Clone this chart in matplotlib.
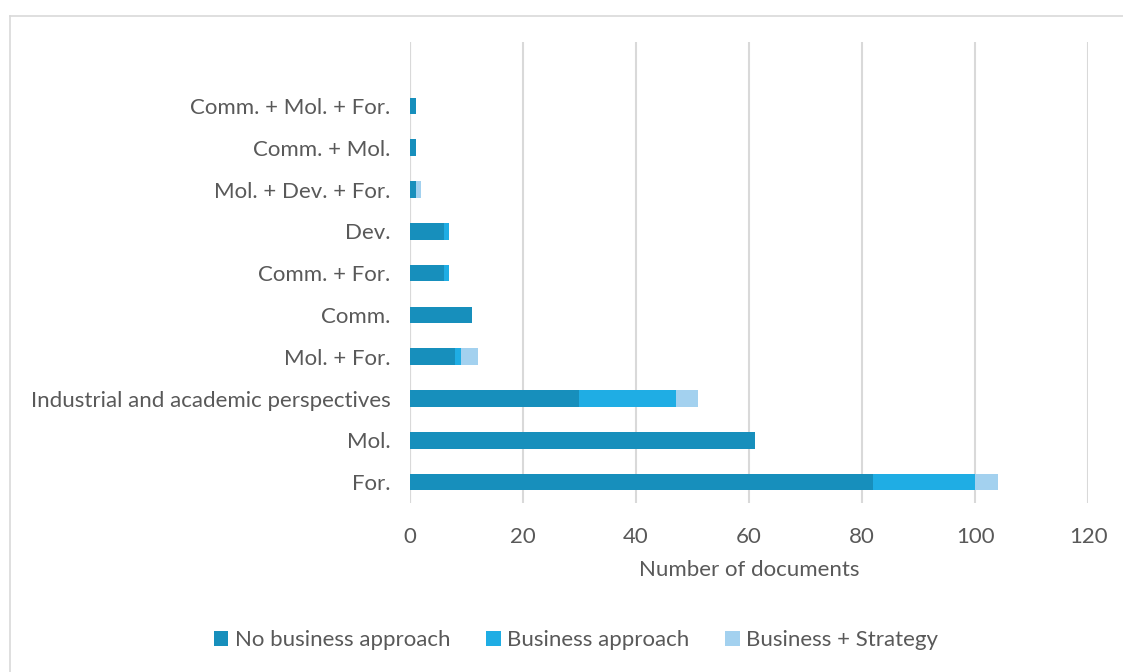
import matplotlib.pyplot as plt
from matplotlib.lines import Line2D
import numpy as np

# categorias (de abajo hacia arriba)
categories = ["For.", "Mol.", "Industrial and academic perspectives", "Mol. + For.",
              "Comm.", "Comm. + For.", "Dev.", "Mol. + Dev. + For.",
              "Comm. + Mol.", "Comm. + Mol. + For."]
no_business = [82, 61, 30, 8, 11, 6, 6, 1, 1, 1]
business = [18, 0, 17, 1, 0, 1, 1, 0, 0, 0]
business_strategy = [4, 0, 4, 3, 0, 0, 0, 1, 0, 0]

series_names = ["No business approach", "Business approach", "Business + Strategy"]
colors = ["#178FBC", "#1FADE4", "#A3D1EF"]
text_color = "#595959"

plt.rcParams['font.family'] = ['Lato', 'DejaVu Sans']
fs = 16

fig = plt.figure(figsize=(11.23, 6.72), dpi=100)
ax = fig.add_axes([0.365, 0.2515, 0.604, 0.686])

y = np.arange(len(categories))
left = np.zeros(len(categories))
for vals, name, col in zip([no_business, business, business_strategy], series_names, colors):
    ax.barh(y, vals, left=left, height=0.4, color=col, label=name, zorder=3)
    left += np.array(vals)

ax.set_xlim(0, 120)
ax.set_ylim(-0.5, 10.53)
ax.set_xticks(np.arange(0, 121, 20))
ax.set_yticks(y)
ax.set_yticklabels(categories)
ax.tick_params(axis='both', length=0, labelsize=fs, colors=text_color)
ax.tick_params(axis='y', pad=14)
ax.tick_params(axis='x', pad=17)
ax.grid(axis='x', color="#D9D9D9", linewidth=1.5, zorder=0)
for s in ax.spines.values():
    s.set_visible(False)
ax.axvline(0, color="#D9D9D9", linewidth=1.5, zorder=1)

ax.set_xlabel("Number of documents", fontsize=fs, color=text_color, labelpad=10)

leg = fig.legend(loc='center', bbox_to_anchor=(0.513, 0.047), ncol=3, frameon=False,
                 fontsize=fs, handlelength=0.65, handleheight=0.65, handletextpad=0.3,
                 columnspacing=1.6)
for t in leg.get_texts():
    t.set_color(text_color)

# borde del grafico (solo arriba e izquierda visibles)
W, H = 1123, 672
fig.add_artist(Line2D([9.5 / W, 1], [1 - 15.5 / H, 1 - 15.5 / H], transform=fig.transFigure,
                      color="#D9D9D9", linewidth=1.2))
fig.add_artist(Line2D([9.5 / W, 9.5 / W], [0, 1 - 15.5 / H], transform=fig.transFigure,
                      color="#D9D9D9", linewidth=1.2))

fig.savefig("out.png", dpi=100)
